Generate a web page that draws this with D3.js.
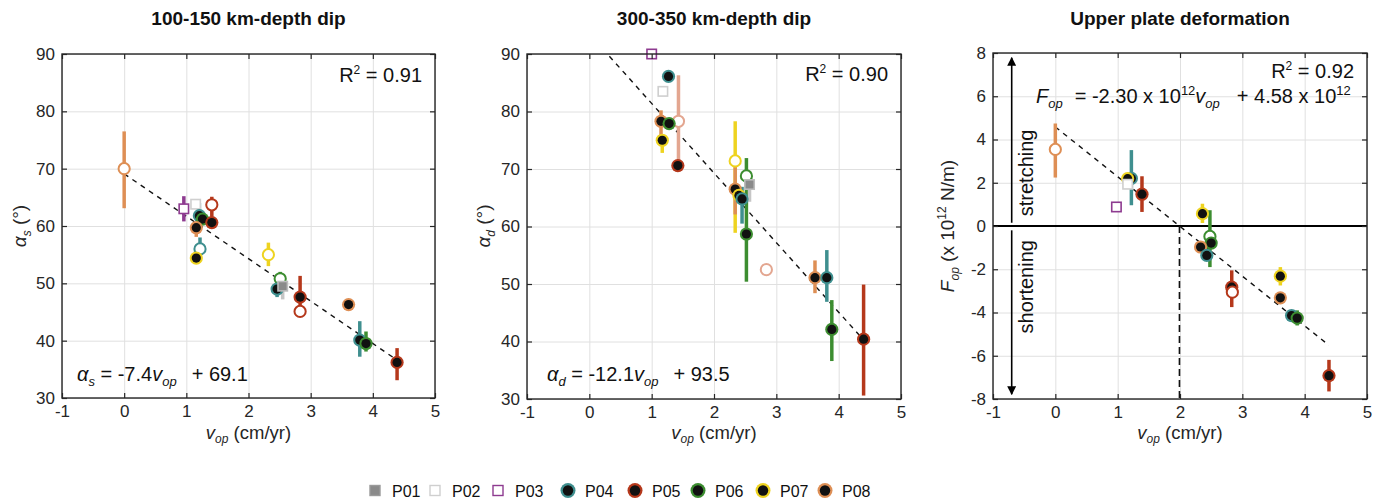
<!DOCTYPE html>
<html><head><meta charset="utf-8">
<script src="https://cdn.jsdelivr.net/npm/d3@7"></script>
<style>
body{margin:0;background:#fff;}
svg{font-family:"Liberation Sans",Arial,Helvetica,sans-serif;}
</style></head><body>
<svg id="c" width="1384" height="499"></svg>
<script>
// ---------- data ----------
const xTicks = [-1, 0, 1, 2, 3, 4, 5];
const dipTicks = [30, 40, 50, 60, 70, 80, 90];
const forceTicks = [-8, -6, -4, -2, 0, 2, 4, 6, 8];
const seriesNames = ["P01", "P02", "P03", "P04", "P05", "P06", "P07", "P08"];
const panelTitles = ["100-150 km-depth dip", "300-350 km-depth dip", "Upper plate deformation"];
const fitSlopes = [-7.4, -12.1, -2.30];
const fitIntercepts = [69.1, 93.5, 4.58];
const r2Labels = ["0.91", "0.90", "0.92"];
const fitRange = [0, 4.39];
// [series, v_op, value, errLow, errHigh, kind]  kind: f = filled, o = open, s = square
const dip150 = [
  ["P08", 0.00, 70.0, 63.1, 76.5, "o"],
  ["P03", 0.96, 63.0, 60.8, 65.2, "s"],
  ["P02", 1.15, 63.8, null, null, "s"],
  ["P04", 1.21, 61.8, 61.0, 64.0, "f"],
  ["P06", 1.26, 61.2, null, null, "f"],
  ["P05", 1.41, 63.7, 61.6, 65.1, "o"],
  ["P05", 1.41, 60.6, null, null, "f"],
  ["P08", 1.16, 59.7, 58.1, 60.7, "f"],
  ["P04", 1.22, 56.0, 55.5, 58.0, "o"],
  ["P07", 1.16, 54.4, null, null, "f"],
  ["P07", 2.32, 55.0, 53.0, 57.1, "o"],
  ["P06", 2.51, 50.8, 49.4, 52.0, "o"],
  ["P04", 2.46, 49.0, 47.6, 49.7, "f"],
  ["P01", 2.55, 49.5, 47.2, 50.6, "s"],
  ["P05", 2.83, 47.6, 45.2, 51.3, "f"],
  ["P05", 2.83, 45.1, null, null, "o"],
  ["P08", 3.61, 46.3, null, null, "f"],
  ["P04", 3.79, 40.1, 37.2, 43.4, "f"],
  ["P06", 3.89, 39.5, 38.1, 41.6, "f"],
  ["P05", 4.39, 36.2, 33.1, 38.7, "f"]
];
const dip350 = [
  ["P03", 1.00, 90.0, null, null, "s"],
  ["P04", 1.27, 86.1, null, null, "f"],
  ["P02", 1.18, 83.5, null, null, "s"],
  ["P08b", 1.43, 78.3, 70.9, 86.3, "o"],
  ["P08", 1.15, 78.3, 75.0, 80.2, "f"],
  ["P06", 1.28, 77.9, null, null, "f"],
  ["P07", 1.17, 75.0, 72.8, 75.0, "f"],
  ["P05", 1.42, 70.6, null, null, "f"],
  ["P07", 2.34, 71.4, 58.9, 78.3, "o"],
  ["P08", 2.34, 66.5, 62.1, 70.3, "f"],
  ["P07", 2.40, 65.4, null, null, "f"],
  ["P04", 2.45, 64.8, 60.5, 66.9, "f"],
  ["P06", 2.52, 68.8, null, null, "o"],
  ["P06", 2.52, 58.7, 50.4, 71.9, "f"],
  ["P01", 2.57, 67.3, 64.3, 69.7, "s"],
  ["P08b", 2.84, 52.5, 51.8, 53.4, "o"],
  ["P08", 3.62, 51.1, 48.4, 54.1, "f"],
  ["P04", 3.81, 51.1, 46.9, 55.9, "f"],
  ["P06", 3.89, 42.1, 36.6, 47.2, "f"],
  ["P05", 4.40, 40.4, 30.6, 49.9, "f"]
];
const upperForce = [
  ["P08", 0.00, 3.54, 2.24, 4.74, "o"],
  ["P04", 1.22, 2.20, 0.96, 3.51, "f"],
  ["P07", 1.16, 2.19, null, null, "f"],
  ["P02", 1.16, 1.93, null, null, "s"],
  ["P05", 1.39, 1.47, 0.65, 2.30, "f"],
  ["P03", 0.98, 0.88, null, null, "s"],
  ["P07", 2.36, 0.57, 0.14, 1.03, "f"],
  ["P06", 2.48, -0.48, -1.90, 0.73, "o"],
  ["P06", 2.50, -0.79, null, null, "f"],
  ["P08", 2.33, -0.97, null, null, "f"],
  ["P04", 2.43, -1.36, null, null, "f"],
  ["P05", 2.83, -2.83, -3.75, -2.05, "f"],
  ["P05", 2.84, -3.06, null, null, "o"],
  ["P07", 3.61, -2.32, -2.75, -1.90, "f"],
  ["P08", 3.61, -3.32, null, null, "f"],
  ["P04", 3.79, -4.14, null, null, "f"],
  ["P06", 3.88, -4.26, -4.60, -3.90, "f"],
  ["P05", 4.39, -6.92, -7.65, -6.19, "f"]
];

// ---------- style ----------
const colors = {
  P01: "#8a8a8a", P02: "#cfcfcf", P03: "#8e3b90", P04: "#3f8f8f", P05: "#b5381b",
  P06: "#3c8d30", P07: "#eed320", P08: "#de8f55", P08b: "#e3a690"
};
const barColors = Object.assign({}, colors, {P01: "#c6c6c6"});
const AX = "#262626";
const FONT = 17;
const fmt = d => String(d);

const svg = d3.select("#c");

function drawPanel(cfg) {
  const x = d3.scaleLinear().domain([-1, 5]).range([cfg.left, cfg.right]);
  const y = d3.scaleLinear().domain(cfg.yDomain).range([cfg.bottom, cfg.top]);
  const W = cfg.right - cfg.left, H = cfg.bottom - cfg.top;
  const g = svg.append("g");
  const clipId = "clip" + cfg.i;
  g.append("clipPath").attr("id", clipId).append("rect")
    .attr("x", cfg.left).attr("y", cfg.top).attr("width", W).attr("height", H);

  // grid
  g.append("g").attr("transform", `translate(0,${cfg.bottom})`)
    .call(d3.axisBottom(x).tickValues(xTicks).tickSize(-H).tickFormat(""))
    .call(s => { s.select(".domain").remove(); s.selectAll("line").attr("stroke", "#e0e0e0").attr("stroke-width", 1); });
  g.append("g").attr("transform", `translate(${cfg.left},0)`)
    .call(d3.axisLeft(y).tickValues(cfg.yTicks).tickSize(-W).tickFormat(""))
    .call(s => { s.select(".domain").remove(); s.selectAll("line").attr("stroke", "#e0e0e0").attr("stroke-width", 1); });

  const plot = g.append("g").attr("clip-path", `url(#${clipId})`);
  if (cfg.extras) cfg.extras(plot, x, y);

  // fit line
  const k = cfg.i;
  plot.append("line")
    .attr("x1", x(fitRange[0])).attr("y1", y(fitSlopes[k] * fitRange[0] + fitIntercepts[k]))
    .attr("x2", x(fitRange[1])).attr("y2", y(fitSlopes[k] * fitRange[1] + fitIntercepts[k]))
    .attr("stroke", "#111").attr("stroke-width", 1.4).attr("stroke-dasharray", "5,5");

  // error bars
  plot.selectAll(".eb").data(cfg.data.filter(d => d[3] !== null)).join("line")
    .attr("x1", d => x(d[1])).attr("x2", d => x(d[1]))
    .attr("y1", d => y(d[3])).attr("y2", d => y(d[4]))
    .attr("stroke", d => barColors[d[0]]).attr("stroke-width", 3.5);

  // markers
  const m = g.append("g");
  cfg.data.forEach(d => {
    const cx = x(d[1]), cy = y(d[2]), c = colors[d[0]];
    if (d[5] === "f") {
      m.append("circle").attr("cx", cx).attr("cy", cy).attr("r", 6.6).attr("fill", c);
      m.append("circle").attr("cx", cx).attr("cy", cy).attr("r", 4.6).attr("fill", "#111");
    } else if (d[5] === "o") {
      m.append("circle").attr("cx", cx).attr("cy", cy).attr("r", 5.6).attr("fill", "#fff")
        .attr("stroke", c).attr("stroke-width", 2);
    } else {
      const filled = d[0] === "P01";
      m.append("rect").attr("x", cx - 4.7).attr("y", cy - 4.7).attr("width", 9.4).attr("height", 9.4)
        .attr("fill", filled ? c : "#fff").attr("stroke", filled ? "#bdbdbd" : c).attr("stroke-width", 1.6);
    }
  });

  // frame + inward ticks
  const styleAxis = s => {
    s.select(".domain").remove();
    s.attr("font-family", null).attr("font-size", FONT);
    s.selectAll("line").attr("stroke", AX).attr("stroke-width", 1.2);
    s.selectAll("text").attr("fill", AX);
  };
  g.append("g").attr("transform", `translate(0,${cfg.bottom})`)
    .call(d3.axisBottom(x).tickValues(xTicks).tickSizeInner(-5).tickSizeOuter(0).tickPadding(7).tickFormat(fmt))
    .call(styleAxis);
  g.append("g").attr("transform", `translate(0,${cfg.top})`)
    .call(d3.axisTop(x).tickValues(xTicks).tickSizeInner(-5).tickSizeOuter(0).tickFormat(""))
    .call(styleAxis);
  g.append("g").attr("transform", `translate(${cfg.left},0)`)
    .call(d3.axisLeft(y).tickValues(cfg.yTicks).tickSizeInner(-5).tickSizeOuter(0).tickPadding(7).tickFormat(fmt))
    .call(styleAxis);
  g.append("g").attr("transform", `translate(${cfg.right},0)`)
    .call(d3.axisRight(y).tickValues(cfg.yTicks).tickSizeInner(-5).tickSizeOuter(0).tickFormat(""))
    .call(styleAxis);
  g.append("rect").attr("x", cfg.left).attr("y", cfg.top).attr("width", W).attr("height", H)
    .attr("fill", "none").attr("stroke", AX).attr("stroke-width", 1.4);

  // title
  g.append("text").attr("x", (cfg.left + cfg.right) / 2).attr("y", 25)
    .attr("text-anchor", "middle").attr("font-weight", "bold").attr("font-size", 19).attr("fill", "#111")
    .text(panelTitles[k]);

  // x label
  const xl = g.append("text").attr("x", (cfg.left + cfg.right) / 2).attr("y", 439)
    .attr("text-anchor", "middle").attr("font-size", 18.5).attr("fill", AX);
  xl.append("tspan").attr("font-style", "italic").text("v");
  xl.append("tspan").attr("font-style", "italic").attr("font-size", 12).attr("dy", 4).text("op");
  xl.append("tspan").attr("dy", -4).text(" (cm/yr)");

  // R2
  const r = g.append("text").attr("x", cfg.right - 13).attr("y", cfg.r2y)
    .attr("text-anchor", "end").attr("font-size", 20).attr("fill", "#111");
  r.append("tspan").text("R");
  r.append("tspan").attr("font-size", 12).attr("dy", -8).text("2");
  r.append("tspan").attr("dy", 8).text(" = " + r2Labels[k]);

  cfg.labels(g, x, y);
}

function sub(t, txt, size) {
  t.append("tspan").attr("font-size", size).attr("dy", 5).attr("font-style", "italic").text(txt);
}

// Panel 1
drawPanel({
  i: 0, left: 62, right: 435, top: 54, bottom: 398, yDomain: [30, 90], yTicks: dipTicks, data: dip150, r2y: 81.5,
  labels: (g) => {
    const yl = g.append("text").attr("transform", "translate(26,226) rotate(-90)")
      .attr("text-anchor", "middle").attr("font-size", 19).attr("fill", AX);
    yl.append("tspan").attr("font-style", "italic").text("α");
    yl.append("tspan").attr("font-size", 12).attr("font-style", "italic").attr("dy", 5).text("s");
    yl.append("tspan").attr("dy", -5).text(" (°)");
    const eq = g.append("text").attr("x", 77).attr("y", 380.5).attr("font-size", 20).attr("fill", "#111");
    eq.append("tspan").attr("font-style", "italic").text("α");
    sub(eq, "s", 13);
    eq.append("tspan").attr("dy", -5).text(" = " + fitSlopes[0]);
    eq.append("tspan").attr("font-style", "italic").text("v");
    sub(eq, "op", 13);
    eq.append("tspan").attr("dy", -5).attr("dx", 15).text("+ " + fitIntercepts[0]);
  }
});

// Panel 2
drawPanel({
  i: 1, left: 527, right: 901, top: 54, bottom: 399, yDomain: [30, 90], yTicks: dipTicks, data: dip350, r2y: 80.5,
  labels: (g) => {
    const yl = g.append("text").attr("transform", "translate(490,226) rotate(-90)")
      .attr("text-anchor", "middle").attr("font-size", 19).attr("fill", AX);
    yl.append("tspan").attr("font-style", "italic").text("α");
    yl.append("tspan").attr("font-size", 12).attr("font-style", "italic").attr("dy", 5).text("d");
    yl.append("tspan").attr("dy", -5).text(" (°)");
    const eq = g.append("text").attr("x", 547).attr("y", 380.5).attr("font-size", 20).attr("fill", "#111");
    eq.append("tspan").attr("font-style", "italic").text("α");
    sub(eq, "d", 13);
    eq.append("tspan").attr("dy", -5).text(" = " + fitSlopes[1]);
    eq.append("tspan").attr("font-style", "italic").text("v");
    sub(eq, "op", 13);
    eq.append("tspan").attr("dy", -5).attr("dx", 15).text("+ " + fitIntercepts[1]);
  }
});

// Panel 3
drawPanel({
  i: 2, left: 993, right: 1367, top: 53, bottom: 399, yDomain: [-8, 8], yTicks: forceTicks, data: upperForce, r2y: 77.5,
  extras: (p, x, y) => {
    // zero line
    p.append("line").attr("x1", x(-1)).attr("x2", x(5)).attr("y1", y(0)).attr("y2", y(0))
      .attr("stroke", "#000").attr("stroke-width", 2);
    // x-intercept dashed line
    const xi = -fitIntercepts[2] / fitSlopes[2];
    p.append("line").attr("x1", x(xi)).attr("x2", x(xi)).attr("y1", y(0)).attr("y2", y(-8))
      .attr("stroke", "#111").attr("stroke-width", 1.6).attr("stroke-dasharray", "7,4");
  },
  labels: (g, x, y) => {
    const yl = g.append("text").attr("transform", "translate(954,226) rotate(-90)")
      .attr("text-anchor", "middle").attr("font-size", 19).attr("fill", AX);
    yl.append("tspan").attr("font-style", "italic").text("F");
    yl.append("tspan").attr("font-size", 12).attr("dy", 5).attr("font-style", "italic").text("op");
    yl.append("tspan").attr("dy", -5).text(" (x 10");
    yl.append("tspan").attr("font-size", 12).attr("dy", -8).text("12");
    yl.append("tspan").attr("dy", 8).text(" N/m)");

    const eq = g.append("text").attr("x", 1036).attr("y", 103).attr("font-size", 20).attr("fill", "#111");
    eq.append("tspan").attr("font-style", "italic").text("F");
    sub(eq, "op", 13);
    eq.append("tspan").attr("dy", -5).attr("dx", 12).text("= " + fitSlopes[2].toFixed(2) + " x 10");
    eq.append("tspan").attr("font-size", 13).attr("dy", -8).text("12");
    eq.append("tspan").attr("dy", 8).attr("font-style", "italic").text("v");
    sub(eq, "op", 13);
    eq.append("tspan").attr("dy", -5).attr("dx", 17).text("+ " + fitIntercepts[2].toFixed(2) + " x 10");
    eq.append("tspan").attr("font-size", 13).attr("dy", -8).text("12");

    // arrows
    const ax = x(-0.7);
    const defs = g.append("defs");
    defs.append("marker").attr("id", "ah").attr("viewBox", "0 0 10 10").attr("refX", 9).attr("refY", 5)
      .attr("markerWidth", 9).attr("markerHeight", 9).attr("markerUnits", "userSpaceOnUse").attr("orient", "auto")
      .append("path").attr("d", "M0,0 L10,5 L0,10 Z").attr("fill", "#000");
    g.append("line").attr("x1", ax).attr("x2", ax).attr("y1", y(0.15)).attr("y2", y(7.78))
      .attr("stroke", "#000").attr("stroke-width", 1.6).attr("marker-end", "url(#ah)");
    g.append("line").attr("x1", ax).attr("x2", ax).attr("y1", y(-0.2)).attr("y2", y(-7.78))
      .attr("stroke", "#000").attr("stroke-width", 1.6).attr("marker-end", "url(#ah)");
    g.append("text").attr("transform", `translate(${ax + 21},${y(0.45)}) rotate(-90)`)
      .attr("font-size", 20).attr("fill", "#111").text("stretching");
    g.append("text").attr("transform", `translate(${ax + 21},${y(-0.65)}) rotate(-90)`)
      .attr("text-anchor", "end").attr("font-size", 20).attr("fill", "#111").text("shortening");
  }
});

// ---------- legend ----------
const legendX = [375, 435, 498, 568, 635, 698, 763, 825];
const lg = svg.append("g");
seriesNames.forEach((s, i) => {
  const cx = legendX[i], cy = 490.5, c = colors[s];
  if (i < 3) {
    const filled = i === 0;
    lg.append("rect").attr("x", cx - 5).attr("y", cy - 5).attr("width", 10).attr("height", 10)
      .attr("fill", filled ? c : "#fff").attr("stroke", filled ? "#9a9a9a" : c).attr("stroke-width", 1.4);
  } else {
    lg.append("circle").attr("cx", cx).attr("cy", cy).attr("r", 7.5).attr("fill", c);
    lg.append("circle").attr("cx", cx).attr("cy", cy).attr("r", 5.2).attr("fill", "#111");
  }
  lg.append("text").attr("x", cx + 17).attr("y", 496.5).attr("font-size", 16).attr("fill", "#111").text(s);
});
</script>
</body></html>
